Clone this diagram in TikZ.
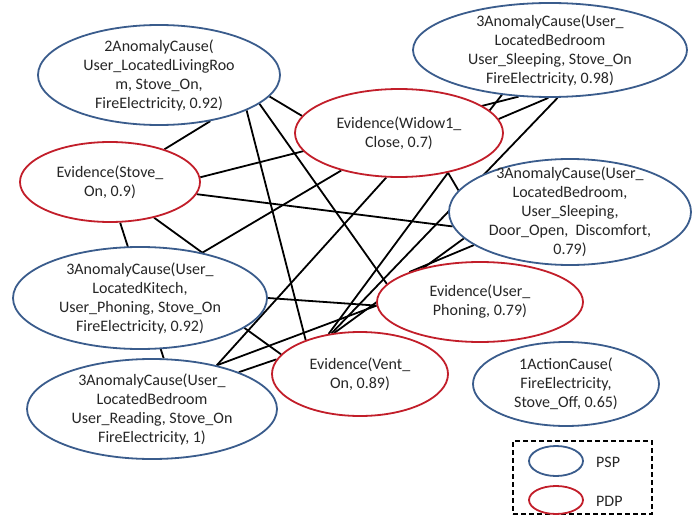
\documentclass[tikz,border=0pt]{standalone}
\usepackage{fontspec}
\setmainfont{Carlito}
\usetikzlibrary{shapes.geometric,backgrounds}
\definecolor{pspblue}{RGB}{58,92,140}
\definecolor{pdpred}{RGB}{194,30,42}
\definecolor{txt}{RGB}{38,38,38}
\tikzset{
  psp/.style={ellipse, draw=pspblue, line width=1.8pt, fill=white, inner sep=0pt},
  pdp/.style={ellipse, draw=pdpred, line width=1.8pt, fill=white, inner sep=0pt},
  lbl/.style={font=\fontsize{16}{19}\selectfont, text=txt, align=center, inner sep=0pt},
  link/.style={line width=1.8pt, black},
  keybox/.style={draw=black, line width=1.6pt, dash pattern=on 5pt off 3pt, inner sep=0pt},
}
\begin{document}
\begin{tikzpicture}[x=1pt, y=-1pt]
\useasboundingbox (0,0) rectangle (696,519);

% cause nodes (blue) and evidence nodes (red)
\node[psp, minimum width=242pt, minimum height=100pt,
  label={[lbl]center:{2AnomalyCause(\\User\_LocatedLivingRoo\\m, Stove\_On,\\FireElectricity, 0.92)}}] (A) at (159,75) {};
\node[pdp, minimum width=180pt, minimum height=80pt,
  label={[lbl]center:{Evidence(Stove\_\\On, 0.9)}}] (B) at (110,182) {};
\node[pdp, minimum width=208pt, minimum height=88pt,
  label={[lbl]center:{Evidence(Widow1\_\\Close, 0.7)}}] (C) at (399,133) {};
\node[psp, minimum width=274pt, minimum height=94pt,
  label={[lbl]center:{3AnomalyCause(User\_\\LocatedBedroom\\User\_Sleeping, Stove\_On\\FireElectricity, 0.98)}}] (D) at (550,50) {};
\node[psp, minimum width=242pt, minimum height=106pt,
  label={[lbl]center:{3AnomalyCause(User\_\\LocatedBedroom,\\User\_Sleeping,\\Door\_Open,~~Discomfort,\\0.79)}}] (E) at (570,212) {};
\node[psp, minimum width=254pt, minimum height=102pt,
  label={[lbl]center:{3AnomalyCause(User\_\\LocatedKitech,\\User\_Phoning, Stove\_On\\FireElectricity, 0.92)}}] (F) at (140,298) {};
\node[psp, minimum width=250pt, minimum height=100pt,
  label={[lbl]center:{3AnomalyCause(User\_\\LocatedBedroom\\User\_Reading, Stove\_On\\FireElectricity, 1)}}] (G) at (152,409) {};
\node[pdp, minimum width=176pt, minimum height=84pt,
  label={[lbl]center:{Evidence(Vent\_\\On, 0.89)}}] (H) at (360,374) {};
\node[pdp, minimum width=206pt, minimum height=80pt,
  label={[lbl]center:{Evidence(User\_\\Phoning, 0.79)}}] (I) at (480,302) {};
\node[psp, minimum width=186pt, minimum height=84pt,
  label={[lbl]center:{1ActionCause(\\FireElectricity,\\Stove\_Off, 0.65)}}] (J) at (566,384) {};

% links, kept behind the filled ellipses
\begin{scope}[on background layer]
  \draw[link] (A.-42.7) -- (B.31.7);
  \draw[link] (A.-11.4) -- (C.170.9);
  \draw[link] (A.-22.1) -- (H.148.9);
  \draw[link] (A.-16.9) -- (I.169.6);
  \draw[link] (B.3.3)   -- (D.236.6);
  \draw[link] (B.-8.7)  -- (E.187.1);
  \draw[link] (B.-39.1) -- (F.36.6);
  \draw[link] (B.-76.3) -- (G.77.6);
  \draw[link] (F.36.6)  -- (C.213.5);
  \draw[link] (C.254.7) -- (G.34.1);
  \draw[link] (C.-39.8) -- (E.169.4);
  \draw[link] (C.-39.8) -- (H.128.7);
  \draw[link] (F.0)     -- (I.182.8);
  \draw[link] (G.34.1)  -- (I.182.8);
  \draw[link] (G.23.3)  -- (H.170.3);
  \draw[link] (F.-16.4) -- (H.166.3);
  \draw[link] (H.122.4) -- (E.194.7);
  \draw[link] (D.-81.5) -- (H.125.3);
  \draw[link] (C.14.5)  -- (D.223.2);
  \draw[link] (C.8.5)   -- (D.268.8);
  \draw[link] (E.199.3) -- (I.157.5);
\end{scope}

% legend
\node[keybox, minimum width=139pt, minimum height=73pt] (key) at (582.5,477.5) {};
\node[psp, minimum width=54pt, minimum height=30pt] (kpsp) at (556,461) {};
\node[pdp, minimum width=54pt, minimum height=28pt] (kpdp) at (556,500) {};
\node[lbl, anchor=west] (tpsp) at (596,462) {PSP};
\node[lbl, anchor=west] (tpdp) at (596,501) {PDP};
\end{tikzpicture}
\end{document}
